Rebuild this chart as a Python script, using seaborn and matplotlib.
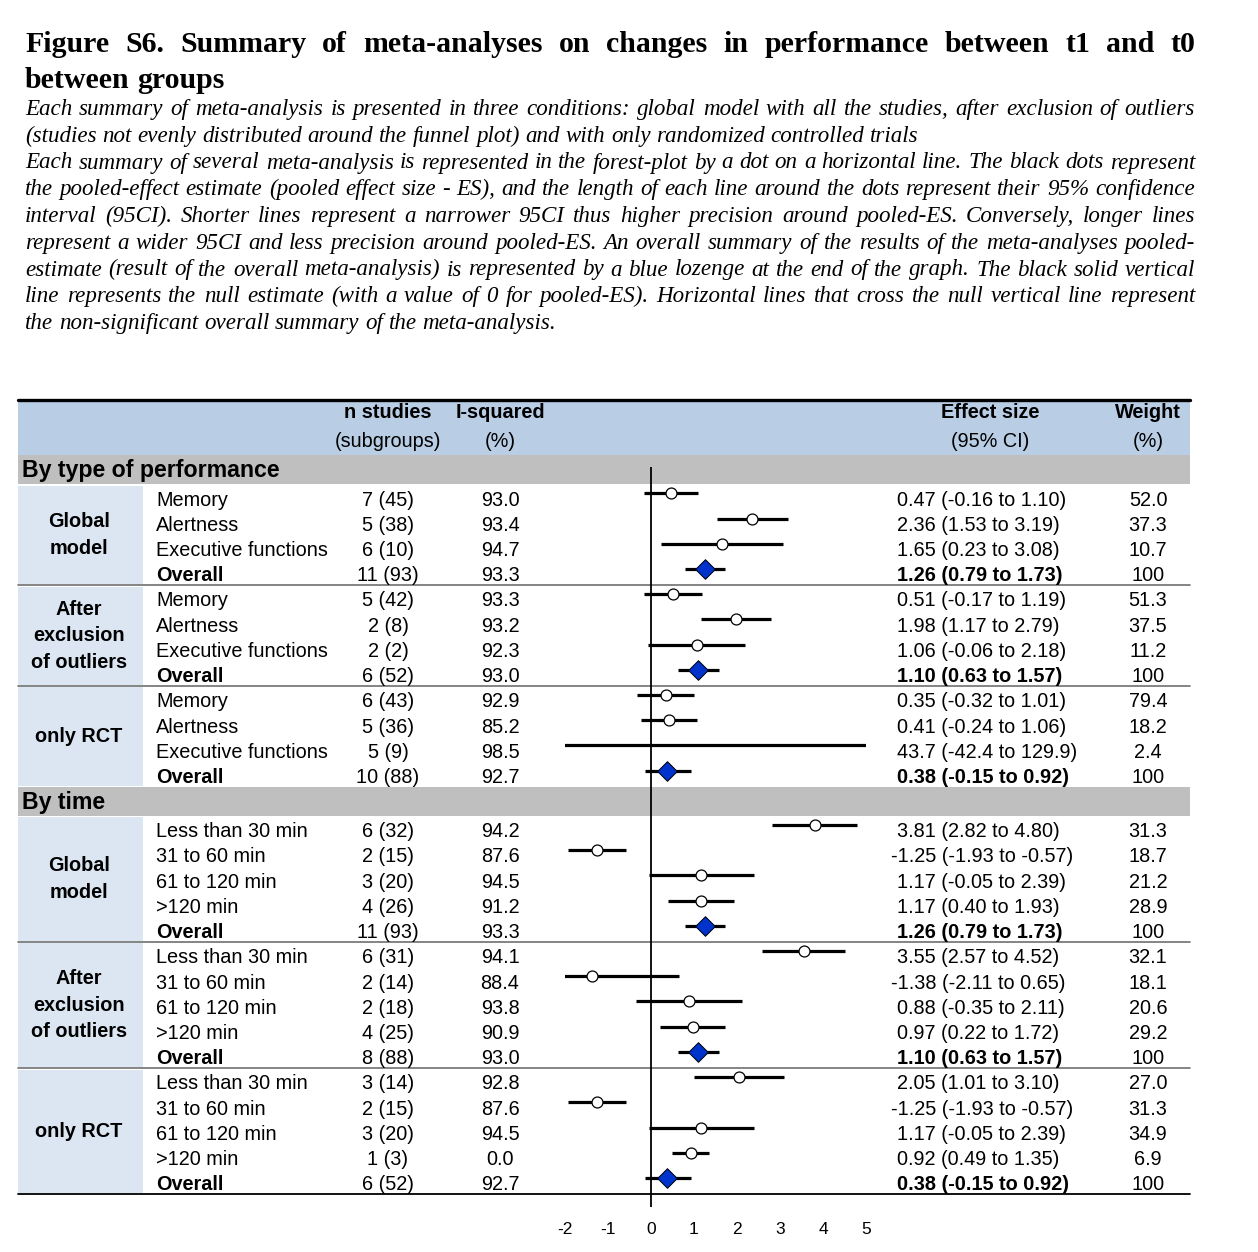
import matplotlib
matplotlib.use("Agg")
import matplotlib.pyplot as plt
import matplotlib.transforms as mtrans
from matplotlib.patches import Rectangle
import numpy as np
import pandas as pd
import seaborn as sns

W, H = 1258, 1252

SECTIONS = ["By type of performance", "By time"]
GROUPS = ["Global\nmodel", "After\nexclusion\nof outliers", "only RCT"]
PERF_ROWS = ["Memory", "Alertness", "Executive functions", "Overall"]
TIME_ROWS = ["Less than 30 min", "31 to 60 min", "61 to 120 min", ">120 min", "Overall"]

n_studies = [7, 5, 6, 11, 5, 2, 2, 6, 6, 5, 5, 10,
             6, 2, 3, 4, 11, 6, 2, 2, 4, 8, 3, 2, 3, 1, 6]
n_subgroups = [45, 38, 10, 93, 42, 8, 2, 52, 43, 36, 9, 88,
               32, 15, 20, 26, 93, 31, 14, 18, 25, 88, 14, 15, 20, 3, 52]
i_squared = [93.0, 93.4, 94.7, 93.3, 93.3, 93.2, 92.3, 93.0, 92.9, 85.2, 98.5, 92.7,
             94.2, 87.6, 94.5, 91.2, 93.3, 94.1, 88.4, 93.8, 90.9, 93.0,
             92.8, 87.6, 94.5, 0.0, 92.7]
effect = [0.47, 2.36, 1.65, 1.26, 0.51, 1.98, 1.06, 1.10, 0.35, 0.41, 43.7, 0.38,
          3.81, -1.25, 1.17, 1.17, 1.26, 3.55, -1.38, 0.88, 0.97, 1.10,
          2.05, -1.25, 1.17, 0.92, 0.38]
ci_low = [-0.16, 1.53, 0.23, 0.79, -0.17, 1.17, -0.06, 0.63, -0.32, -0.24, -42.4, -0.15,
          2.82, -1.93, -0.05, 0.40, 0.79, 2.57, -2.11, -0.35, 0.22, 0.63,
          1.01, -1.93, -0.05, 0.49, -0.15]
ci_high = [1.10, 3.19, 3.08, 1.73, 1.19, 2.79, 2.18, 1.57, 1.01, 1.06, 129.9, 0.92,
           4.80, -0.57, 2.39, 1.93, 1.73, 4.52, 0.65, 2.11, 1.72, 1.57,
           3.10, -0.57, 2.39, 1.35, 0.92]
weight = [52.0, 37.3, 10.7, 100, 51.3, 37.5, 11.2, 100, 79.4, 18.2, 2.4, 100,
          31.3, 18.7, 21.2, 28.9, 100, 32.1, 18.1, 20.6, 29.2, 100,
          27.0, 31.3, 34.9, 6.9, 100]
x_ticks = [-2, -1, 0, 1, 2, 3, 4, 5]

TITLE = ["Figure S6. Summary of meta-analyses on changes in performance between t1 and t0",
         "between groups"]
CAPTION = [
    ["Each summary of meta-analysis is presented in three conditions: global model with all the studies, after exclusion of outliers",
     "(studies not evenly distributed around the funnel plot) and with only randomized controlled trials"],
    ["Each summary of several meta-analysis is represented in the forest-plot by a dot on a horizontal line. The black dots represent",
     "the pooled-effect estimate (pooled effect size - ES), and the length of each line around the dots represent their 95% confidence",
     "interval (95CI). Shorter lines represent a narrower 95CI thus higher precision around pooled-ES. Conversely, longer lines",
     "represent a wider 95CI and less precision around pooled-ES. An overall summary of the results of the meta-analyses pooled-",
     "estimate (result of the overall meta-analysis) is represented by a blue lozenge at the end of the graph. The black solid vertical",
     "line represents the null estimate (with a value of 0 for pooled-ES). Horizontal lines that cross the null vertical line represent",
     "the non-significant overall summary of the meta-analysis."],
]

HEAD_BLUE = "#B9CDE5"
BAND_GREY = "#BFBFBF"
LEFT_BLUE = "#DCE6F2"
DIAMOND = "#0033CC"
SANS = "Liberation Sans"
SERIF = "Liberation Serif"
FS = 14.3

sns.set_theme(style="white")
plt.rcParams["font.family"] = [SANS, "DejaVu Sans"]
plt.rcParams["text.color"] = "black"
plt.rcParams["xtick.color"] = "black"


def fx(px):
    return px / W


def fmt_es(v):
    return f"{v:.1f}" if abs(v) >= 10 else f"{v:.2f}"


# layout of the table rows (in row units)
rows, bands, blocks = [], [], []
cursor = 2.2
k = 0
for sec, labels in zip(SECTIONS, [PERF_ROWS, TIME_ROWS]):
    bands.append((cursor, sec))
    cursor += 1.15
    for g in GROUPS:
        top = cursor
        for lab in labels:
            rows.append({"section": sec, "group": g, "label": lab, "y": cursor + 0.35,
                         "ty": cursor + 0.62,
                         "n": n_studies[k], "sub": n_subgroups[k], "i2": i_squared[k],
                         "effect": effect[k], "lo": ci_low[k], "hi": ci_high[k],
                         "weight": weight[k], "overall": lab == "Overall"})
            cursor += 1.0
            k += 1
        blocks.append((top, cursor, g))
df = pd.DataFrame(rows)
table_bottom = cursor

fig = plt.figure(figsize=(W / 100, H / 100), dpi=100)
ax = fig.add_axes([fx(565), 1 - 1207 / H, fx(866) - fx(565), 807 / H])
tr = mtrans.blended_transform_factory(fig.transFigure, ax.transData)

# backgrounds
ax.add_patch(Rectangle((fx(18), 0), fx(1190) - fx(18), 2.2, transform=tr,
                       facecolor=HEAD_BLUE, edgecolor="none", clip_on=False, zorder=0))
for top, name in bands:
    ax.add_patch(Rectangle((fx(18), top), fx(1190) - fx(18), 1.15, transform=tr,
                           facecolor=BAND_GREY, edgecolor="none", clip_on=False, zorder=0))
    ax.text(fx(22), top + 0.6, name, transform=tr, ha="left", va="center",
            fontsize=16.7, fontweight="bold")
for i, (top, bot, g) in enumerate(blocks):
    ax.add_patch(Rectangle((fx(18), top + 0.05), fx(143) - fx(18), bot - top - 0.1,
                           transform=tr, facecolor=LEFT_BLUE, edgecolor="none",
                           clip_on=False, zorder=0))
    ax.text(fx(79), (top + bot) / 2, g, transform=tr, ha="center", va="center",
            fontsize=FS, fontweight="bold", linespacing=1.5)
    if i % 3 != 2:
        ax.plot([fx(18), fx(1190)], [bot, bot], transform=tr, color="#707070",
                lw=1.2, clip_on=False, zorder=1)
ax.plot([fx(18), fx(1190)], [0, 0], transform=tr, color="black", lw=2.4, clip_on=False)
ax.plot([fx(18), fx(1190)], [table_bottom, table_bottom], transform=tr,
        color="black", lw=1.3, clip_on=False)

# header
heads = [(388, "n studies", "(subgroups)"), (500, "I-squared", "(%)"),
         (990, "Effect size", "(95% CI)"), (1148, "Weight", "(%)")]
for xp, h1, h2 in heads:
    ax.text(fx(xp), 0.5, h1, transform=tr, ha="center", va="center",
            fontsize=FS, fontweight="bold")
    ax.text(fx(xp), 1.65, h2, transform=tr, ha="center", va="center", fontsize=FS)

# table columns
for r in df.itertuples():
    bold = "bold" if r.overall else "normal"
    ax.text(fx(156), r.ty, r.label, transform=tr, ha="left", va="center",
            fontsize=FS, fontweight=bold)
    ax.text(fx(388), r.ty, f"{r.n} ({r.sub})", transform=tr, ha="center",
            va="center", fontsize=FS)
    ax.text(fx(500), r.ty, f"{r.i2:.1f}", transform=tr, ha="center",
            va="center", fontsize=FS)
    es_txt = f"{fmt_es(r.effect)} ({fmt_es(r.lo)} to {fmt_es(r.hi)})"
    x_es = 891 if es_txt.startswith("-") else 897
    ax.text(fx(x_es), r.ty, es_txt, transform=tr, ha="left", va="center",
            fontsize=FS, fontweight=bold)
    w_txt = "100" if r.weight == 100 else f"{r.weight:.1f}"
    ax.text(fx(1148), r.ty, w_txt, transform=tr, ha="center", va="center", fontsize=FS)

# forest plot
ax.vlines(0, bands[0][0] + 0.45, 32, color="black", lw=1.3, zorder=2)
ax.hlines(df["y"], df["lo"], df["hi"], color="black", lw=2.3, zorder=3)
sns.scatterplot(data=df[~df["overall"]], x="effect", y="y", marker="o", s=62,
                color="white", edgecolor="black", linewidth=0.9, zorder=4,
                legend=False, ax=ax)
sns.scatterplot(data=df[df["overall"]], x="effect", y="y", marker="D", s=100,
                color=DIAMOND, edgecolor="black", linewidth=0.7, zorder=5,
                legend=False, ax=ax)
ax.set_xlim(-2, 5)
ax.set_ylim(32, 0)
ax.set_xticks(x_ticks)
ax.set_xticklabels([str(t) for t in x_ticks])
ax.set_yticks([])
ax.set_xlabel("")
ax.set_ylabel("")
ax.tick_params(axis="x", length=0, pad=11, labelsize=12.5, labelcolor="black")
ax.set_facecolor("none")
for sp in ax.spines.values():
    sp.set_visible(False)

# title and caption, justified like the source document
renderer = fig.canvas.get_renderer()


def put_line(text, base_px, justify, **kw):
    words = text.split(" ")
    objs = [fig.text(0, 1 - base_px / H, w, va="baseline", ha="left", **kw) for w in words]
    widths = [o.get_window_extent(renderer).width for o in objs]
    sp = fig.text(0, 0, "a a", **kw)
    sp2 = fig.text(0, 0, "aa", **kw)
    space = sp.get_window_extent(renderer).width - sp2.get_window_extent(renderer).width
    sp.remove()
    sp2.remove()
    gap = (1195 - 25 - sum(widths)) / (len(words) - 1) if justify else space
    x = 25
    for o, w in zip(objs, widths):
        o.set_x(x / W)
        x += w + gap


title_kw = dict(family=[SERIF, "DejaVu Serif"], fontweight="bold", fontsize=21.5)
put_line(TITLE[0], 52, True, **title_kw)
put_line(TITLE[1], 88, False, **title_kw)
cap_kw = dict(family=[SERIF, "DejaVu Serif"], style="italic", fontsize=16.6)
base = 115
for para in CAPTION:
    for j, line in enumerate(para):
        put_line(line, base, j < len(para) - 1, **cap_kw)
        base += 26.75

fig.savefig("out.png", dpi=100, facecolor="white")
